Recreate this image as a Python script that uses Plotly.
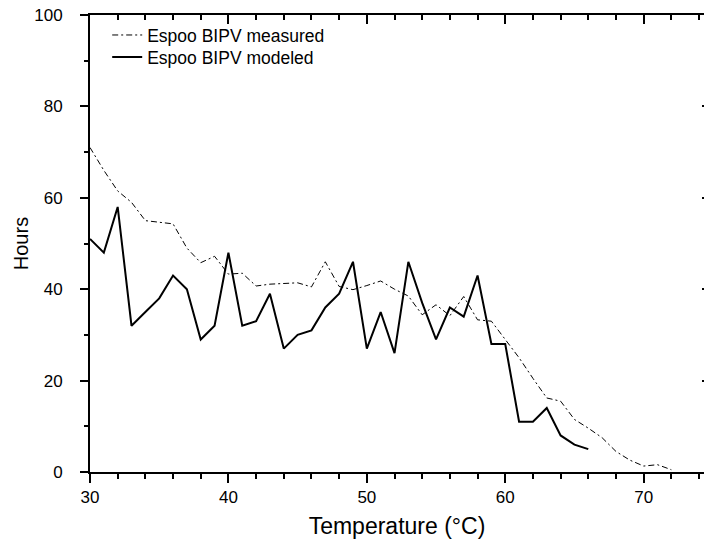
import plotly.graph_objects as go

# Data
temp_measured = list(range(30, 73))
hours_measured = [71, 66, 61.5, 59, 55, 54.7, 54.3, 49, 45.8, 47.2,
                  43.3, 43.5, 40.7, 41.1, 41.3, 41.4, 40.5, 46, 40.6, 39.9,
                  40.8, 41.8, 40, 38.5, 34.4, 36.6, 34.2, 38.4, 33.3, 33,
                  29, 25, 20.5, 16.2, 15.5, 11.5, 9.6, 7.5, 4.5, 2.6,
                  1.3, 1.6, 0.5]

temp_modeled = list(range(30, 67))
hours_modeled = [51, 48, 58, 32, 35, 38, 43, 40, 29, 32,
                 48, 32, 33, 39, 27, 30, 31, 36, 39, 46,
                 27, 35, 26, 46, 37, 29, 36, 34, 43, 28,
                 28, 11, 11, 14, 8, 6, 5]

x_range = [30, 74.36]
y_range = [0, 100]

FONT = "Arial, 'Liberation Sans', sans-serif"

fig = go.Figure()
fig.add_trace(go.Scatter(
    x=temp_measured, y=hours_measured, mode="lines",
    name="Espoo BIPV measured", legend="legend",
    line=dict(color="black", width=1, dash="6px,3px,2px,3px"),
))
fig.add_trace(go.Scatter(
    x=temp_modeled, y=hours_modeled, mode="lines",
    name="Espoo BIPV modeled", legend="legend2",
    line=dict(color="black", width=2),
))
# empty traces to attach the mirrored top / right axes
fig.add_trace(go.Scatter(x=[], y=[], xaxis="x2", yaxis="y", showlegend=False, hoverinfo="skip"))
fig.add_trace(go.Scatter(x=[], y=[], xaxis="x", yaxis="y2", showlegend=False, hoverinfo="skip"))

legend_common = dict(
    xanchor="left", yanchor="middle",
    bgcolor="rgba(0,0,0,0)", borderwidth=0,
    font=dict(size=17.5, family=FONT, color="black"),
)

fig.update_layout(
    width=704, height=546,
    margin=dict(l=90, r=0, t=15, b=73.5),
    paper_bgcolor="white", plot_bgcolor="white",
    font=dict(family=FONT, color="black", size=17),
    showlegend=True,
    legend=dict(x=0.028, y=0.956, **legend_common),
    legend2=dict(x=0.028, y=0.908, **legend_common),
    xaxis=dict(
        range=x_range, showgrid=False, zeroline=False, automargin=False,
        showline=True, linecolor="black", linewidth=2,
        ticks="outside", ticklen=9, tickwidth=1.5, tickcolor="black",
        tick0=30, dtick=10,
        minor=dict(ticks="outside", ticklen=5, tickwidth=1.5, tickcolor="black", dtick=2),
        tickfont=dict(size=17),
        ticklabelstandoff=0,
        title=dict(text="Temperature (°C)", font=dict(size=23), standoff=11),
    ),
    xaxis2=dict(
        range=x_range, overlaying="x", side="top", anchor="y",
        showgrid=False, zeroline=False, showticklabels=False,
        showline=True, linecolor="black", linewidth=2,
        ticks="inside", ticklen=9, tickwidth=1.5, tickcolor="black",
        tick0=30, dtick=10,
        minor=dict(ticks="inside", ticklen=5, tickwidth=1.5, tickcolor="black", dtick=2),
    ),
    yaxis=dict(
        range=y_range, showgrid=False, zeroline=False, automargin=False,
        showline=True, linecolor="black", linewidth=2,
        ticks="outside", ticklen=8, tickwidth=1.5, tickcolor="black",
        tick0=0, dtick=20,
        minor=dict(ticks="outside", ticklen=4, tickwidth=1.5, tickcolor="black", dtick=10),
        tickfont=dict(size=17),
        ticklabelstandoff=14,
        ticklabeloverflow="allow",
        title=dict(text="Hours", font=dict(size=20), standoff=0),
    ),
    yaxis2=dict(
        range=y_range, overlaying="y", side="right", anchor="x",
        showgrid=False, zeroline=False, showticklabels=False, showline=False,
        ticks="inside", ticklen=2, tickwidth=1.5, tickcolor="black",
        tick0=0, dtick=20,
    ),
)

fig.write_html(
    "out.html",
    config={"displayModeBar": False},
    post_script="document.body.style.margin='0';document.body.style.overflow='hidden';",
)
